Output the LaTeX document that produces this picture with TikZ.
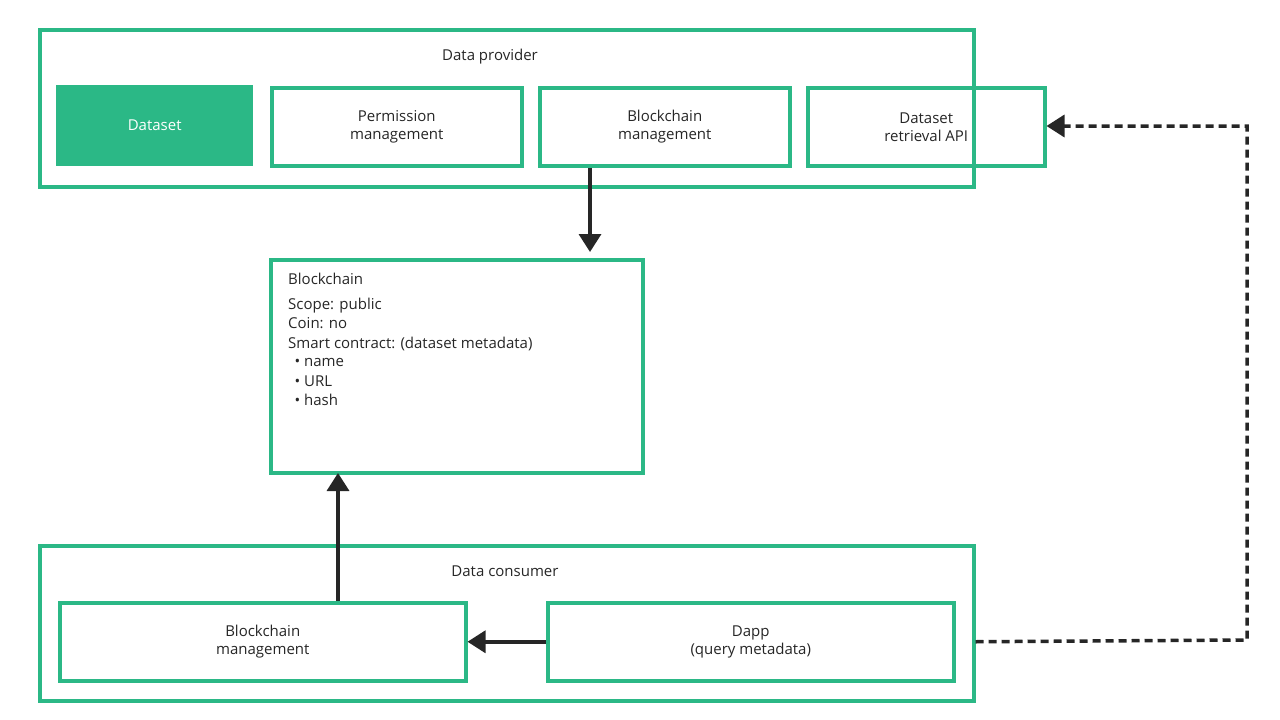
\documentclass[tikz,border=0pt]{standalone}
\usepackage{fontspec}
\setmainfont{Open Sans}
\usetikzlibrary{arrows.meta,positioning}
\definecolor{grn}{HTML}{2BB886}
\begin{document}
\begin{tikzpicture}[x=1pt,y=-1pt,
  box/.style={draw=grn,line width=3.5pt},
  lbl/.style={font=\fontsize{15}{18}\selectfont,align=center,text=black!85},
  arr/.style={line width=3.5pt,draw=black!85,-{Triangle[length=18pt,width=22pt]}},
  darr/.style={line width=3.5pt,draw=black!85,dash pattern=on 8pt off 5pt,-{Triangle[length=18pt,width=22pt]}}]
\useasboundingbox (0,0) rectangle (1280,720);
\node[box,minimum width=934pt,minimum height=157pt,anchor=north west] (prov) at (38,28) {};
\node[lbl] at (490,57) {Data provider};
\node[fill=grn,minimum width=197pt,minimum height=81pt,anchor=north west,lbl,text=white] (ds) at (56,85) {Dataset};
\node[box,lbl,minimum width=250pt,minimum height=78pt,anchor=north west] (perm) at (270,86) {Permission\\management};
\node[box,lbl,minimum width=250pt,minimum height=78pt,anchor=north west] (bm1) at (538,86) {Blockchain\\management};
\node[box,lbl,minimum width=237pt,minimum height=78pt,anchor=north west] (api) at (806,86) {Dataset\\retrieval API};
\node[box,minimum width=372pt,minimum height=213pt,anchor=north west] (bc) at (269,258) {};
\node[lbl,align=left,anchor=north west,inner sep=0pt,font=\fontsize{15}{19.5}\selectfont] at (288,273) {Blockchain\\[5pt]Scope: public\\Coin: no\\Smart contract: (dataset metadata)\\[-1pt]
\ \,\textbullet\ name\\ \ \,\textbullet\ URL\\ \ \,\textbullet\ hash};
\node[box,minimum width=934pt,minimum height=155pt,anchor=north west] (cons) at (38,544) {};
\node[lbl] at (505,571) {Data consumer};
\node[box,lbl,minimum width=406pt,minimum height=78pt,anchor=north west] (bm2) at (58,601) {Blockchain\\management};
\node[box,lbl,minimum width=406pt,minimum height=78pt,anchor=north west] (dapp) at (546,601) {Dapp\\(query metadata)};
\draw[arr] (bm1.south -| 590,0) -- (590,252);
\draw[arr] (bm2.north -| 338,0) -- (338,473);
\draw[arr] (dapp.west) -- (bm2.east);
\coordinate (c1) at (1247,640);
\coordinate (c2) at (1247,126);
\draw[darr] (cons.east |- dapp.east) -- (c1) -- (c2) -- (api.east |- c2);
\end{tikzpicture}
\end{document}
